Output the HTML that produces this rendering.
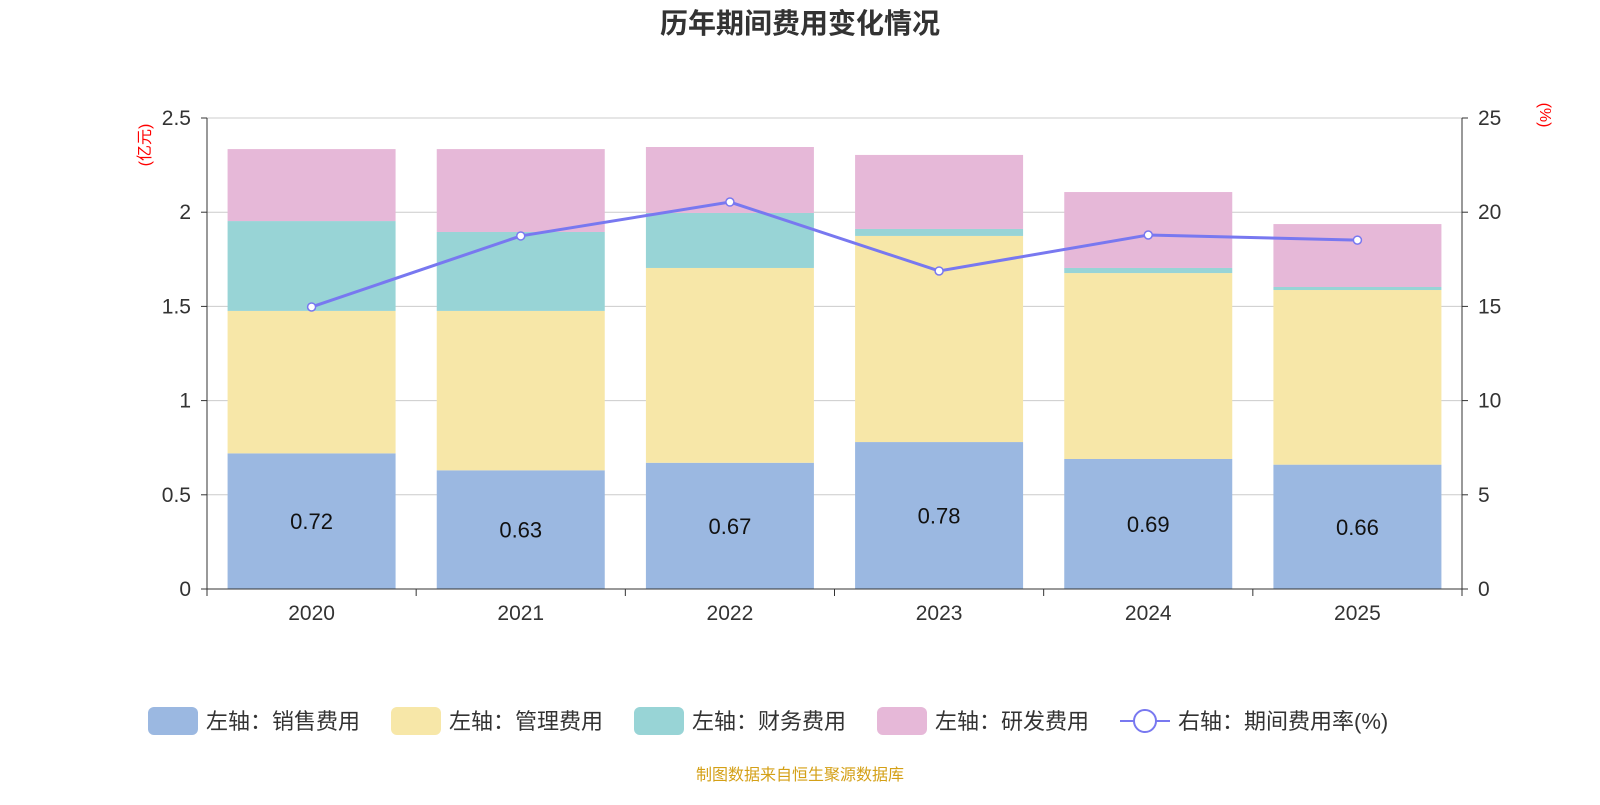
<!DOCTYPE html>
<html><head><meta charset="utf-8"><style>
body{margin:0;background:#fff;}
svg text{font-family:"Liberation Sans","Noto Sans CJK SC",sans-serif;}
</style></head><body>
<svg id="chart" width="1600" height="800" xmlns="http://www.w3.org/2000/svg">
<text x="800" y="33" text-anchor="middle" font-size="28" font-weight="bold" fill="#333">历年期间费用变化情况</text>
<text transform="translate(150,145) rotate(-90)" text-anchor="middle" font-size="16" fill="red">(亿元)</text>
<text transform="translate(1540,115) rotate(90)" text-anchor="middle" font-size="16" fill="red">(%)</text>
<g id="grid"></g><g id="bars"></g><g id="line"></g><g id="axes"></g>
<g id="legend"></g>
<text x="800" y="780" text-anchor="middle" font-size="16" fill="#d4a017">制图数据来自恒生聚源数据库</text>
</svg>
<script>
const years=["2020","2021","2022","2023","2024","2025"];
const sales=[0.72,0.63,0.67,0.78,0.69,0.66];
const mgmt=[0.756,0.846,1.034,1.094,0.987,0.927];
const fin=[0.477,0.419,0.292,0.037,0.027,0.016];
const rd=[0.382,0.44,0.35,0.393,0.403,0.334];
const rate=[14.97,18.74,20.54,16.88,18.79,18.52];
const leftTicks=["0","0.5","1","1.5","2","2.5"];
const rightTicks=["0","5","10","15","20","25"];
const NS="http://www.w3.org/2000/svg";
const x0=207,x1=1462,y0=589,yt=118;
const yL=v=>y0-v/2.5*(y0-yt);
const yR=v=>y0-v/25*(y0-yt);
const bw=(x1-x0)/years.length;
const xc=i=>x0+bw*(i+0.5);
function mk(tag,attrs,parent){const e=document.createElementNS(NS,tag);for(const k in attrs)e.setAttribute(k,attrs[k]);document.getElementById(parent).appendChild(e);return e;}
leftTicks.forEach((t,i)=>{const y=yL(+t);
 if(i>0){const g=mk('line',{x1:x0,x2:x1,y1:y,y2:y,stroke:'#ccc','stroke-width':1},'grid');}
 const tx=mk('text',{x:x0-16,y:y+7,'text-anchor':'end','font-size':21,fill:'#333'},'axes');tx.textContent=t;
 
 const tk=mk('line',{x1:x0-6,x2:x0,y1:y,y2:y,stroke:'#333'},'axes');
});
rightTicks.forEach(t=>{const y=yR(+t);
 const tx=mk('text',{x:x1+16,y:y+7,'font-size':21,fill:'#333'},'axes');tx.textContent=t;
 
 const tk=mk('line',{x1:x1,x2:x1+6,y1:y,y2:y,stroke:'#333'},'axes');
});
let a=mk('line',{x1:x0,x2:x0,y1:yt,y2:y0,stroke:'#333'},'axes');
a=mk('line',{x1:x1,x2:x1,y1:yt,y2:y0,stroke:'#333'},'axes');
a=mk('line',{x1:x0,x2:x1,y1:y0,y2:y0,stroke:'#333'},'axes');
for(let i=0;i<=years.length;i++){const t=mk('line',{x1:x0+bw*i,x2:x0+bw*i,y1:y0,y2:y0+7,stroke:'#333'},'axes');}
const series=[[sales,'#9bb8e1','sales'],[mgmt,'#f7e7a8','management'],[fin,'#98d4d6','finance'],[rd,'#e6b8d8','rnd']];
years.forEach((yr,i)=>{
 const tx=mk('text',{x:xc(i),y:620,'text-anchor':'middle','font-size':21,fill:'#333'},'axes');tx.textContent=yr;
 
 let cum=0;
 series.forEach(([arr,col,nm])=>{const top=cum+arr[i];
  const r=mk('rect',{x:xc(i)-84,width:168,y:yL(top),height:yL(cum)-yL(top),fill:col},'bars');
  cum=top;});
 const l=mk('text',{x:xc(i),y:(yL(0)+yL(sales[i]))/2+8,'text-anchor':'middle','font-size':22,fill:'#111'},'bars');
 l.textContent=sales[i].toFixed(2);
});
const pl=mk('polyline',{points:rate.map((v,i)=>xc(i)+','+yR(v)).join(' '),fill:'none',stroke:'#7878f0','stroke-width':3},'line');

rate.forEach((v,i)=>{const c=mk('circle',{cx:xc(i),cy:yR(v),r:4,fill:'#fff',stroke:'#7878f0','stroke-width':1.5},'line');
 });
const leg=[['左轴：销售费用','#9bb8e1',148],['左轴：管理费用','#f7e7a8',391],['左轴：财务费用','#98d4d6',634],['左轴：研发费用','#e6b8d8',877]];
leg.forEach(([t,c,x])=>{const r=mk('rect',{x:x,y:707,width:50,height:28,rx:6,fill:c},'legend');
 
 const tx=mk('text',{x:x+58,y:729,'font-size':22,fill:'#333'},'legend');tx.textContent=t;
 });
let ll=mk('line',{x1:1120,x2:1170,y1:721,y2:721,stroke:'#7878f0','stroke-width':2},'legend');
ll=mk('circle',{cx:1145,cy:721,r:11,fill:'#fff',stroke:'#7878f0','stroke-width':2},'legend');
ll=mk('text',{x:1178,y:729,'font-size':22,fill:'#333'},'legend');ll.textContent='右轴：期间费用率(%)';
</script>
</body></html>
